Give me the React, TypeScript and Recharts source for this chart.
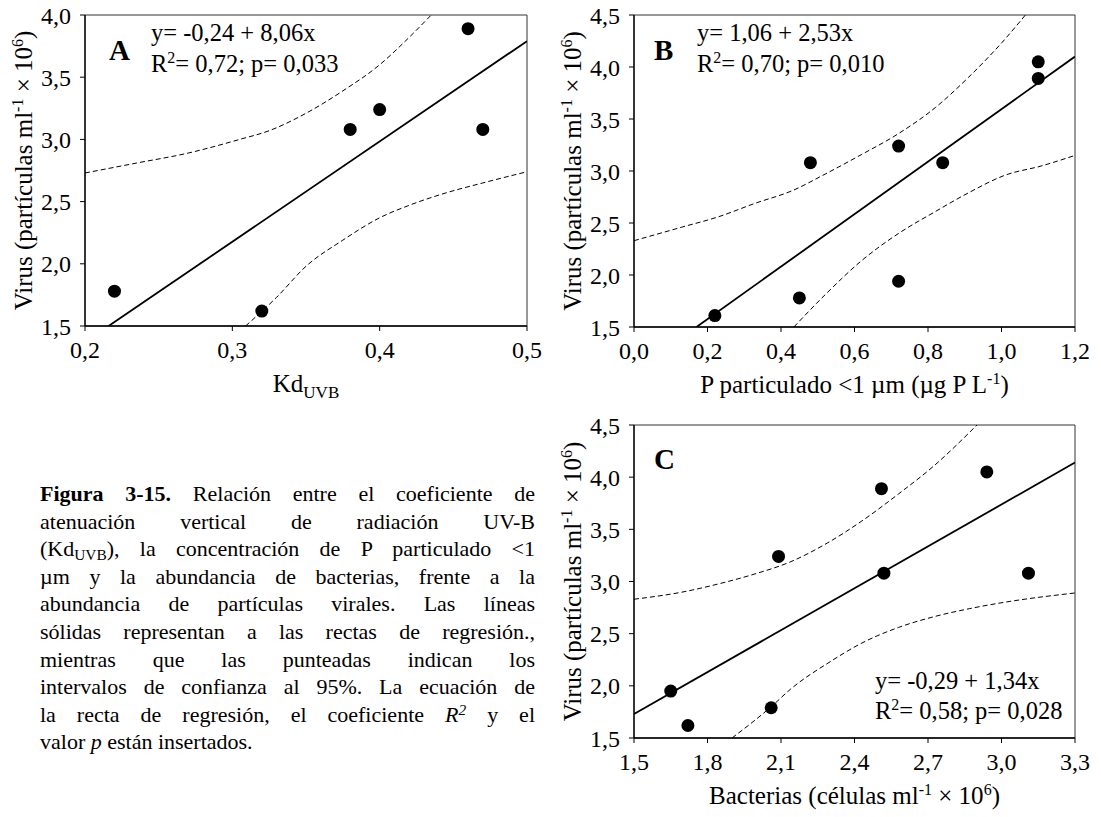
import React from 'react';
import { ComposedChart, Line, Scatter, XAxis, YAxis, ReferenceArea, Label } from 'recharts';

const FONT = '"Liberation Serif", "Times New Roman", serif';

// Panel A: Kd UVB vs virus
const kdX = [0.22, 0.32, 0.38, 0.40, 0.46, 0.47];
const kdVirus = [1.78, 1.62, 3.08, 3.24, 3.89, 3.08];
const kdFitX = [0.216, 0.5];
const kdFitY = [1.5, 3.79];
const kdUpperX = [0.20, 0.235, 0.27, 0.305, 0.325, 0.35, 0.375, 0.40, 0.42, 0.435];
const kdUpperY = [2.73, 2.81, 2.89, 3.00, 3.07, 3.21, 3.39, 3.60, 3.82, 4.00];
const kdLowerX = [0.309, 0.33, 0.35, 0.375, 0.40, 0.42, 0.445, 0.47, 0.50];
const kdLowerY = [1.50, 1.73, 1.98, 2.19, 2.37, 2.47, 2.57, 2.65, 2.74];
const kdXTicks = [0.2, 0.3, 0.4, 0.5];
const kdYTicks = [1.5, 2.0, 2.5, 3.0, 3.5, 4.0];

// Panel B: P particulado vs virus
const ppX = [0.22, 0.45, 0.48, 0.72, 0.72, 0.84, 1.10, 1.10];
const ppVirus = [1.61, 1.78, 3.08, 3.24, 1.94, 3.08, 4.05, 3.89];
const ppFitX = [0.17, 1.2];
const ppFitY = [1.5, 4.10];
const ppUpperX = [0, 0.13, 0.23, 0.33, 0.43, 0.52, 0.62, 0.72, 0.82, 0.91, 1.01, 1.065];
const ppUpperY = [2.33, 2.46, 2.56, 2.69, 2.81, 2.97, 3.16, 3.36, 3.61, 3.90, 4.27, 4.50];
const ppLowerX = [0.435, 0.52, 0.62, 0.72, 0.82, 0.91, 1.01, 1.11, 1.2];
const ppLowerY = [1.50, 1.81, 2.14, 2.40, 2.61, 2.79, 2.96, 3.05, 3.15];
const ppXTicks = [0, 0.2, 0.4, 0.6, 0.8, 1.0, 1.2];
const virusTicks = [1.5, 2.0, 2.5, 3.0, 3.5, 4.0, 4.5];

// Panel C: bacterias vs virus
const bacX = [1.65, 1.72, 2.06, 2.09, 2.51, 2.52, 2.94, 3.11];
const bacVirus = [1.95, 1.62, 1.79, 3.24, 3.89, 3.08, 4.05, 3.08];
const bacFitX = [1.5, 3.3];
const bacFitY = [1.73, 4.14];
const bacUpperX = [1.5, 1.70, 1.85, 1.99, 2.14, 2.29, 2.43, 2.58, 2.72, 2.90];
const bacUpperY = [2.83, 2.90, 2.98, 3.07, 3.19, 3.37, 3.58, 3.84, 4.10, 4.50];
const bacLowerX = [1.90, 2.06, 2.14, 2.30, 2.43, 2.58, 2.72, 2.87, 3.01, 3.30];
const bacLowerY = [1.50, 1.80, 1.97, 2.23, 2.41, 2.56, 2.66, 2.74, 2.80, 2.89];
const bacXTicks = [1.5, 1.8, 2.1, 2.4, 2.7, 3.0, 3.3];

const zip = (xs: number[], ys: number[]) => xs.map((x, i) => ({ x, y: ys[i] }));
const comma = (v: number) => v.toFixed(1).replace('.', ',');

const dot = (props: any) => <circle cx={props.cx} cy={props.cy} r={6.5} fill="#000" />;

const tickStyle = { fill: '#000', fontSize: 24, fontFamily: FONT };

// superscript followed by the rest of the text back on the baseline
const sup = (s: string, rest: string) => (
  <>
    <tspan dy={-9} fontSize={16}>{s}</tspan>
    <tspan dy={9}>{rest}</tspan>
  </>
);

const yTitle = (props: any) => {
  const vb = props.viewBox;
  const cx = vb.x + vb.width - 53;
  const cy = vb.y + vb.height / 2;
  return (
    <text x={cx} y={cy} transform={`rotate(-90, ${cx}, ${cy})`} textAnchor="middle" fontFamily={FONT} fontSize={25} fill="#000">
      Virus (partículas ml{sup('-1', ' × 10')}
      <tspan dy={-9} fontSize={16}>6</tspan>
      <tspan dy={9}>)</tspan>
    </text>
  );
};

const xTitle = (content: React.ReactNode) => (props: any) => {
  const vb = props.viewBox;
  return (
    <text x={vb.x + vb.width / 2} y={vb.y + 66} textAnchor="middle" fontFamily={FONT} fontSize={25} fill="#000">
      {content}
    </text>
  );
};

type Pt = { x: number; y: number };
type PanelProps = {
  width: number;
  height: number;
  margin: { top: number; right: number; bottom: number; left: number };
  xDomain: [number, number];
  yDomain: [number, number];
  xTicks: number[];
  yTicks: number[];
  points: Pt[];
  fit: Pt[];
  upper: Pt[];
  lower: Pt[];
  xLabel: React.ReactNode;
};

const Panel = (p: PanelProps) => (
  <ComposedChart width={p.width} height={p.height} margin={p.margin}>
    <ReferenceArea x1={p.xDomain[0]} x2={p.xDomain[1]} y1={p.yDomain[0]} y2={p.yDomain[1]} fill="none" stroke="#333" strokeWidth={1} />
    <XAxis
      type="number"
      dataKey="x"
      domain={p.xDomain}
      ticks={p.xTicks}
      interval={0}
      allowDataOverflow
      tickFormatter={comma}
      tickSize={5}
      tickMargin={10}
      height={60}
      tick={tickStyle}
      axisLine={{ stroke: '#000', strokeWidth: 1.3 }}
      tickLine={{ stroke: '#000', strokeWidth: 1 }}
    >
      <Label content={xTitle(p.xLabel)} />
    </XAxis>
    <YAxis
      type="number"
      dataKey="y"
      domain={p.yDomain}
      ticks={p.yTicks}
      interval={0}
      allowDataOverflow
      tickFormatter={comma}
      tickSize={5}
      tickMargin={9}
      width={60}
      tick={tickStyle}
      axisLine={{ stroke: '#000', strokeWidth: 1.3 }}
      tickLine={{ stroke: '#000', strokeWidth: 1 }}
    >
      <Label content={yTitle} />
    </YAxis>
    <Line data={p.upper} dataKey="y" type="monotone" stroke="#000" strokeWidth={1} strokeDasharray="5 3" dot={false} activeDot={false} isAnimationActive={false} />
    <Line data={p.lower} dataKey="y" type="monotone" stroke="#000" strokeWidth={1} strokeDasharray="5 3" dot={false} activeDot={false} isAnimationActive={false} />
    <Line data={p.fit} dataKey="y" type="linear" stroke="#000" strokeWidth={1.8} dot={false} activeDot={false} isAnimationActive={false} />
    <Scatter data={p.points} dataKey="y" fill="#000" shape={dot} isAnimationActive={false} />
  </ComposedChart>
);

const subStyle = { fontSize: '0.7em', verticalAlign: '-0.25em', lineHeight: 0 };
const supStyle = { fontSize: '0.7em', verticalAlign: '0.45em', lineHeight: 0 };

const captionLines: React.ReactNode[] = [
  <><b>Figura 3-15.</b> Relación entre el coeficiente de</>,
  <>atenuación vertical de radiación UV-B</>,
  <>(Kd<span style={subStyle}>UVB</span>), la concentración de P particulado {'<'}1</>,
  <>µm y la abundancia de bacterias, frente a la</>,
  <>abundancia de partículas virales. Las líneas</>,
  <>sólidas representan a las rectas de regresión.,</>,
  <>mientras que las punteadas indican los</>,
  <>intervalos de confianza al 95%. La ecuación de</>,
  <>la recta de regresión, el coeficiente <i>R<span style={supStyle}>2</span></i> y el</>,
  <>valor <i>p</i> están insertados.</>,
];

const txt = { fontFamily: FONT, fill: '#000' };

export default function App() {
  return (
    <div style={{ position: 'absolute', left: 0, top: 0, width: 1101, height: 817, background: '#fff', overflow: 'hidden', fontFamily: FONT }}>
      <div style={{ position: 'absolute', left: 0, top: 0 }}>
        <Panel
          width={545}
          height={410}
          margin={{ top: 15, right: 18, bottom: 24, left: 25 }}
          xDomain={[0.2, 0.5]}
          yDomain={[1.5, 4.0]}
          xTicks={kdXTicks}
          yTicks={kdYTicks}
          points={zip(kdX, kdVirus)}
          fit={zip(kdFitX, kdFitY)}
          upper={zip(kdUpperX, kdUpperY)}
          lower={zip(kdLowerX, kdLowerY)}
          xLabel={<>Kd<tspan dy={6} fontSize={17}>UVB</tspan></>}
        />
      </div>
      <div style={{ position: 'absolute', left: 545, top: 0 }}>
        <Panel
          width={556}
          height={410}
          margin={{ top: 15, right: 26, bottom: 23, left: 29 }}
          xDomain={[0, 1.2]}
          yDomain={[1.5, 4.5]}
          xTicks={ppXTicks}
          yTicks={virusTicks}
          points={zip(ppX, ppVirus)}
          fit={zip(ppFitX, ppFitY)}
          upper={zip(ppUpperX, ppUpperY)}
          lower={zip(ppLowerX, ppLowerY)}
          xLabel={<>P particulado {'<'}1 µm (µg P L{sup('-1', ')')}</>}
        />
      </div>
      <div style={{ position: 'absolute', left: 545, top: 410 }}>
        <Panel
          width={556}
          height={407}
          margin={{ top: 15, right: 26, bottom: 19, left: 29 }}
          xDomain={[1.5, 3.3]}
          yDomain={[1.5, 4.5]}
          xTicks={bacXTicks}
          yTicks={virusTicks}
          points={zip(bacX, bacVirus)}
          fit={zip(bacFitX, bacFitY)}
          upper={zip(bacUpperX, bacUpperY)}
          lower={zip(bacLowerX, bacLowerY)}
          xLabel={<>Bacterias (células ml{sup('-1', ' × 10')}<tspan dy={-9} fontSize={16}>6</tspan><tspan dy={9}>)</tspan></>}
        />
      </div>

      <svg width={1101} height={817} style={{ position: 'absolute', left: 0, top: 0, pointerEvents: 'none' }}>
        <text x={109} y={60} fontSize={29} fontWeight="bold" {...txt}>A</text>
        <text x={151} y={41} fontSize={24.5} {...txt}>y= -0,24 + 8,06x</text>
        <text x={151} y={72} fontSize={24.5} {...txt}>R{sup('2', '= 0,72; p= 0,033')}</text>

        <text x={654} y={60} fontSize={29} fontWeight="bold" {...txt}>B</text>
        <text x={697} y={41} fontSize={24.5} {...txt}>y= 1,06 + 2,53x</text>
        <text x={697} y={72} fontSize={24.5} {...txt}>R{sup('2', '= 0,70; p= 0,010')}</text>

        <text x={654} y={469} fontSize={29} fontWeight="bold" {...txt}>C</text>
        <text x={875} y={689} fontSize={24.5} {...txt}>y= -0,29 + 1,34x</text>
        <text x={875} y={719} fontSize={24.5} {...txt}>R{sup('2', '= 0,58; p= 0,028')}</text>
      </svg>

      <div style={{ position: 'absolute', left: 40, top: 480, width: 495, fontFamily: FONT, fontSize: 22, lineHeight: '27.6px', color: '#000' }}>
        {captionLines.map((line, i) => (
          <div key={i} style={{ textAlign: 'justify', textAlignLast: i === captionLines.length - 1 ? 'left' : 'justify' }}>
            {line}
          </div>
        ))}
      </div>
    </div>
  );
}
